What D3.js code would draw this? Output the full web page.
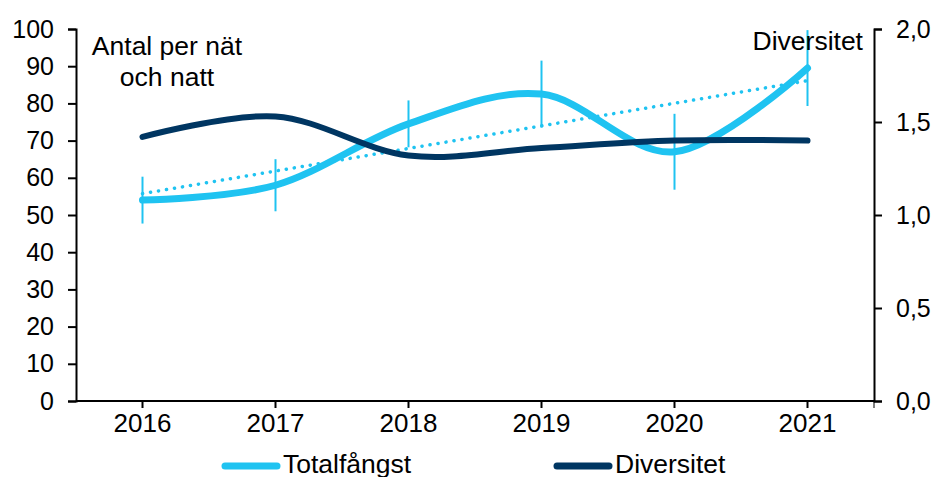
<!DOCTYPE html>
<html>
<head>
<meta charset="utf-8">
<script src="https://cdn.jsdelivr.net/npm/d3@7"></script>
<style>
  body { margin: 0; background: #fff; }
  svg text { font-family: "Liberation Sans", Arial, sans-serif; fill: #000; }
</style>
</head>
<body>
<svg id="chart" width="936" height="477"></svg>
<script>
// data
var years = ['2016', '2017', '2018', '2019', '2020', '2021'];
var totalfangst = [54, 58, 74.5, 82.5, 67, 89.5];
var felmarginal = [6.3, 7, 6.3, 9, 10.2, 10.2];
var diversitet = [1.42, 1.53, 1.32, 1.36, 1.40, 1.40];
var leftTicks = [0, 10, 20, 30, 40, 50, 60, 70, 80, 90, 100];
var rightTicks = [0, 0.5, 1, 1.5, 2];

var light = '#1fc3f1', dark = '#003662';
var svg = d3.select('#chart');
var plotL = 76, plotR = 874, plotT = 29, plotB = 401;

var x = d3.scaleBand().domain(years).range([plotL, plotR]);
var yL = d3.scaleLinear().domain([0, 100]).range([plotB, plotT]);
var yR = d3.scaleLinear().domain([0, 2]).range([plotB, plotT]);
var cx = function (i) { return x(years[i]) + x.bandwidth() / 2; };

// axes
var gx = svg.append('g').attr('transform', 'translate(0,' + plotB + ')')
  .call(d3.axisBottom(x).tickSize(7).tickPadding(6));
gx.selectAll('text').style('font-size', '26px');
gx.append('line').attr('x1', plotR).attr('x2', plotR).attr('y1', 0).attr('y2', 7).attr('stroke', '#000');

var gl = svg.append('g').attr('transform', 'translate(' + plotL + ',0)')
  .call(d3.axisLeft(yL).tickValues(leftTicks).tickSize(8).tickPadding(14));
gl.selectAll('text').style('font-size', '25px');

var gr = svg.append('g').attr('transform', 'translate(' + plotR + ',0)')
  .call(d3.axisRight(yR).tickValues(rightTicks).tickSize(8).tickPadding(14)
    .tickFormat(function (d) { return d3.format('.1f')(d).replace('.', ','); }));
gr.selectAll('text').style('font-size', '25px');

svg.selectAll('.domain').attr('stroke', '#000').attr('stroke-width', 2);
svg.selectAll('.tick line').attr('stroke', '#000').attr('stroke-width', 2);
gx.select('.domain').attr('d', 'M' + plotL + ',0H' + plotR);

// error bars
svg.append('g').selectAll('line').data(totalfangst).enter().append('line')
  .attr('x1', function (d, i) { return cx(i); })
  .attr('x2', function (d, i) { return cx(i); })
  .attr('y1', function (d, i) { return yL(d + felmarginal[i]); })
  .attr('y2', function (d, i) { return yL(d - felmarginal[i]); })
  .attr('stroke', light).attr('stroke-width', 2);

// linear trend for Totalfångst
var idx = d3.range(years.length);
var mx = d3.mean(idx), my = d3.mean(totalfangst);
var slope = d3.sum(idx, function (i) { return (i - mx) * (totalfangst[i] - my); }) /
  d3.sum(idx, function (i) { return (i - mx) * (i - mx); });
var icpt = my - slope * mx;
svg.append('line')
  .attr('x1', cx(0)).attr('y1', yL(icpt))
  .attr('x2', cx(5)).attr('y2', yL(icpt + slope * 5))
  .attr('stroke', light).attr('stroke-width', 3.5)
  .attr('stroke-linecap', 'round').attr('stroke-dasharray', '0.1 8');

var curve = d3.curveCardinal.tension(0);
var lineL = d3.line().curve(curve).x(function (d, i) { return cx(i); }).y(function (d) { return yL(d); });
var lineR = d3.line().curve(curve).x(function (d, i) { return cx(i); }).y(function (d) { return yR(d); });

svg.append('path').datum(totalfangst).attr('d', lineL)
  .attr('fill', 'none').attr('stroke', light).attr('stroke-width', 7).attr('stroke-linecap', 'round');
svg.append('path').datum(diversitet).attr('d', lineR)
  .attr('fill', 'none').attr('stroke', dark).attr('stroke-width', 6).attr('stroke-linecap', 'round');

// axis titles
var t1 = svg.append('text').attr('x', 167).attr('y', 55).attr('text-anchor', 'middle').style('font-size', '26.5px');
t1.append('tspan').attr('x', 167).text('Antal per nät');
t1.append('tspan').attr('x', 167).attr('dy', 31).text('och natt');
svg.append('text').attr('x', 863).attr('y', 50).attr('text-anchor', 'end').style('font-size', '26.5px').text('Diversitet');

// legend
var legend = [{ name: 'Totalfångst', color: light, x: 225 }, { name: 'Diversitet', color: dark, x: 557 }];
var lg = svg.append('g').selectAll('g').data(legend).enter().append('g')
  .attr('transform', function (d) { return 'translate(' + d.x + ',466)'; });
lg.append('line').attr('x1', 0).attr('x2', 52).attr('stroke', function (d) { return d.color; })
  .attr('stroke-width', 7).attr('stroke-linecap', 'round');
lg.append('text').attr('x', 58).attr('y', 7).style('font-size', '26.5px').text(function (d) { return d.name; });
</script>
</body>
</html>
